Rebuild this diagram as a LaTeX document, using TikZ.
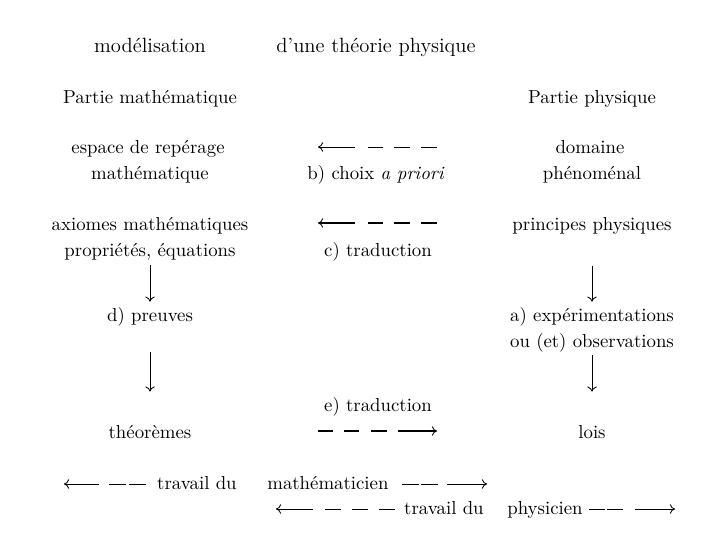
\documentclass[tikz,border=0pt]{standalone}
\usetikzlibrary{arrows.meta}
\begin{document}
\begin{tikzpicture}[x=0.5824pt,y=-0.5824pt,
  body/.style={inner sep=0pt,anchor=base,font=\fontsize{10.95}{13.6}\selectfont},
  ttl/.style={inner sep=0pt,anchor=base,font=\fontsize{12}{14.5}\selectfont},
  thinline/.style={line width=0.5pt},
  thickline/.style={line width=1.1pt},
  tipend/.style={-{To[length=3pt,width=5.5pt,line width=0.5pt]}},
  varr/.style={line width=0.5pt,-{To[length=3pt,width=5.5pt]}}]
\useasboundingbox[fill=white] (0,0) rectangle (720,540);

% titles
\node[ttl] (mod) at (150,52) {modélisation};
\node[ttl] (dune) at (376,52) {d'une théorie physique};

\node[body] (pm) at (150,103) {Partie mathématique};
\node[body] (pp) at (592,103) {Partie physique};

% row b
\node[body] (esp1) at (148,153) {espace de repérage};
\node[body] (esp2) at (150,179) {mathématique};
\node[body] (bl) at (376,179) {b) choix \emph{a priori}};
\node[body] (dom1) at (590,153) {domaine};
\node[body] (dom2) at (592,179) {phénoménal};
\coordinate (bR) at (437,147);
\coordinate (bL) at (318,147);
\draw[thinline,tipend,dash pattern=on 9.318pt off 6.406pt on 9.318pt off 6.406pt on 8.736pt off 7.571pt on 30pt] (bR) -- (bL);

% row c
\node[body] (ax1) at (150,230) {axiomes mathématiques};
\node[body] (ax2) at (150,256) {propriétés, équations};
\node[body] (cl) at (378,256) {c) traduction};
\node[body] (pr) at (592,230) {principes physiques};
\coordinate (cR) at (437,223);
\coordinate (cL) at (318,223);
\draw[thickline,tipend,dash pattern=on 9.318pt off 6.406pt on 9.318pt off 6.406pt on 8.736pt off 7.571pt on 30pt] (cR) -- (cL);

% middle rows
\node[body] (dp) at (150,321) {d) preuves};
\node[body] (ex1) at (592,321) {a) expérimentations};
\node[body] (ex2) at (592,347) {ou (et) observations};

% row e
\node[body] (el) at (378,411) {e) traduction};
\node[body] (th) at (150,438) {théorèmes};
\node[body] (lois) at (592,438) {lois};
\coordinate (eL) at (318,431);
\coordinate (eR) at (437,431);
\draw[thickline,tipend,dash pattern=on 8.736pt off 6.406pt on 8.736pt off 6.989pt on 9.318pt off 6.406pt on 30pt] (eL) -- (eR);

% vertical arrows
\draw[varr,shorten <=3.12pt,shorten >=2.85pt] (ax2.south) -- (dp.north);
\draw[varr,shorten <=15.3pt,shorten >=19.2pt] (dp.south) -- (th.north);
\draw[varr,shorten <=18.26pt,shorten >=2.85pt] (pr.south) -- (ex1.north);
\draw[varr,shorten <=1.92pt,shorten >=19.2pt] (ex2.south) -- (lois.north);

% bottom rows
\node[body,anchor=base east] (tr1) at (237,489) {travail du};
\node[body,anchor=base west] (ma) at (267,489) {mathématicien};
\node[body,anchor=base east] (tr2) at (484,514) {travail du};
\node[body,anchor=base west] (ph) at (507,514) {physicien};

\coordinate (r1a) at (146,484);
\coordinate (r1b) at (64,484);
\draw[thinline,tipend,dash pattern=on 9.901pt off 1.747pt on 9.901pt off 5.824pt on 30pt] (r1a) -- (r1b);
\coordinate (r1c) at (402,484);
\coordinate (r1d) at (487,484);
\draw[thinline,tipend,dash pattern=on 9.901pt off 1.165pt on 9.901pt off 5.242pt on 30pt] (r1c) -- (r1d);
\coordinate (r2a) at (395,509);
\coordinate (r2b) at (276,509);
\draw[thinline,tipend,dash pattern=on 9.318pt off 6.406pt on 9.318pt off 6.406pt on 9.318pt off 6.989pt on 30pt] (r2a) -- (r2b);
\coordinate (r2c) at (589,509);
\coordinate (r2d) at (675,509);
\draw[thinline,tipend,dash pattern=on 9.318pt off 1.165pt on 9.318pt off 6.989pt on 30pt] (r2c) -- (r2d);
\end{tikzpicture}
\end{document}
